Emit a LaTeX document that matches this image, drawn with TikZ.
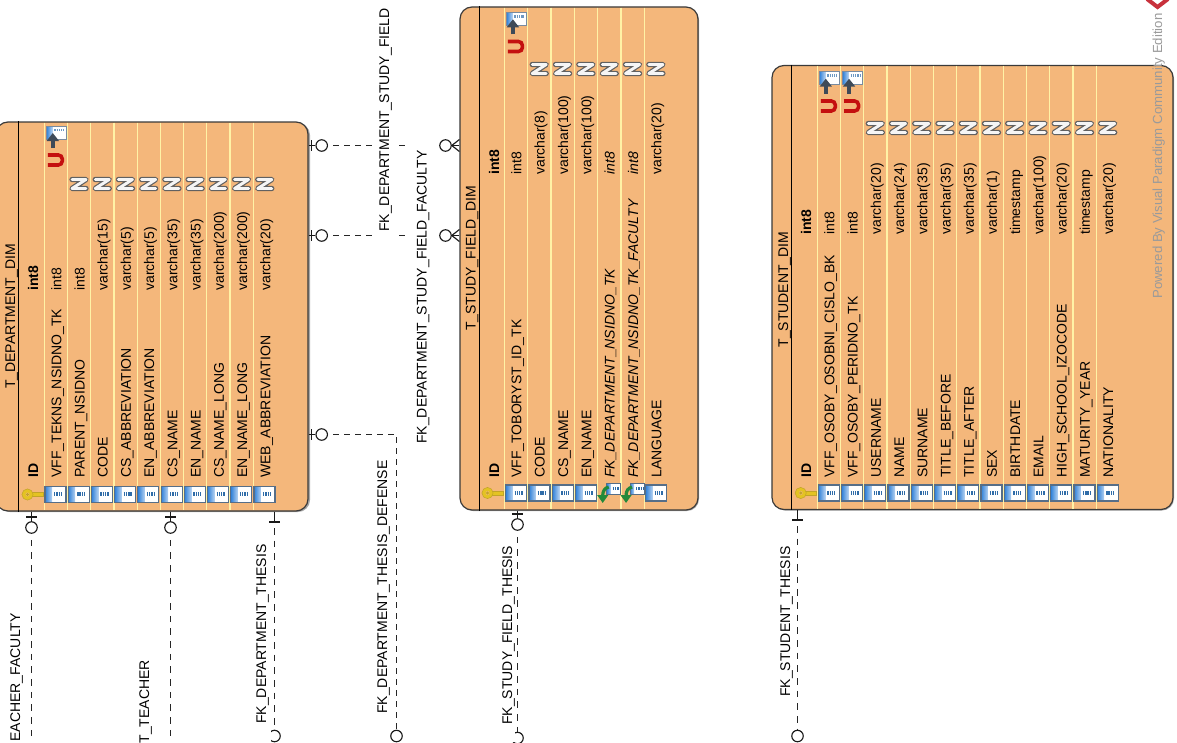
\documentclass[tikz,border=0pt]{standalone}
\usepackage{fontspec}
\setmainfont{Liberation Sans}
\usetikzlibrary{arrows.meta,calc}
\definecolor{tblfill}{HTML}{F4B77B}
\definecolor{tblline}{HTML}{3A3A3A}
\definecolor{sepline}{HTML}{FFF2A6}
\definecolor{iconedge}{HTML}{566E88}
\definecolor{iconblue}{HTML}{2F80D8}
\definecolor{iconmark}{HTML}{2F6CA8}
\definecolor{arrowdark}{HTML}{3E4A58}
\definecolor{magnet}{HTML}{C4100F}
\definecolor{keyyellow}{HTML}{E4C322}
\definecolor{keyedge}{HTML}{C2A428}
\definecolor{fkgreen}{HTML}{23893A}
\definecolor{wmgrey}{HTML}{9A9A9A}
\definecolor{logored}{HTML}{C8323C}
\newcommand{\rowfont}{\fontsize{10.5}{12}\selectfont}
\tikzset{
  tablebox/.style={draw=tblline,fill=tblfill,rounded corners=9pt,line width=.9pt,inner sep=0pt},
  shadowbox/.style={fill=black!35,rounded corners=9pt,inner sep=0pt},
  rowtxt/.style={rotate=90,anchor=base west,inner sep=0pt,font=\rowfont},
  rowplain/.style={},
  rowital/.style={font=\rowfont\itshape},
  headtxt/.style={rotate=90,anchor=base west,inner sep=0pt,font=\rowfont\bfseries},
  titletxt/.style={rotate=90,anchor=base,inner sep=0pt,font=\rowfont},
  seprule/.style={draw=sepline,line width=.9pt},
  divrule/.style={draw=black,line width=.8pt},
  fklabel/.style={rotate=90,anchor=base west,fill=white,inner xsep=1.5pt,inner ysep=1pt,font=\rowfont},
  fklabelend/.style={fklabel,anchor=base east},
  rel/.style={draw=black!90,line width=.85pt},
  reldash/.style={draw=black!85,line width=.9pt,dash pattern=on 4.5pt off 3.75pt,dash phase=4.5pt},
  reldashv/.style={draw=black!85,line width=.9pt,dash pattern=on 5pt off 4.5pt,dash phase=5pt},
  oend/.style={circle,draw=black!90,line width=.85pt,fill=white,inner sep=0pt,minimum size=8.6pt},
  colicon/.pic={
    \fill[white] (0,-8) rectangle (21,8);
    \shade[left color=iconblue,right color=iconblue!35] (0,-8) rectangle (7,8);
    \draw[iconmark,line width=3pt,dash pattern=on 1pt off .7pt] (9,0) -- (18,0);
    \draw[iconedge,line width=.9pt] (0,-8) rectangle (21,8);
  },
  fkicon/.pic={
    \fill[white] (9,-10) rectangle (23,1);
    \shade[left color=iconblue,right color=iconblue!35] (9,-10) rectangle (13,1);
    \draw[iconmark,line width=2.2pt,dash pattern=on 1pt off .7pt] (15,-4.5) -- (22,-4.5);
    \draw[iconedge,line width=.5pt] (9,-10) rectangle (23,1);
    \draw[fkgreen,line width=2.4pt,-{Triangle[length=6pt,width=8pt]}] (11,-6) .. controls (7,-5) and (5,-2) .. (5,10);
  },
  upkey/.pic={
    \fill[white] (2,0) rectangle (22,13);
    \shade[left color=iconblue,right color=iconblue!35] (2,0) rectangle (8,13);
    \draw[iconmark!70,line width=2.2pt,dash pattern=on 1pt off .7pt] (10,4) -- (20,4);
    \draw[iconedge!80,line width=.7pt] (2,0) rectangle (22,13);
    \draw[arrowdark,line width=3pt,-{Triangle[length=6pt,width=9pt]}] (8.5,22) -- (8.5,7);
  },
  uicon/.pic={
    \draw[magnet,line width=2.7pt,rounded corners=3pt] (3.5,29.5) -- (18,29.5) -- (18,39.5) -- (3.5,39.5);
  },
  nicon/.pic={
    \draw[black!62,line width=4pt,line join=round,line cap=round] (-7,-4.5) -- (7,-4.5) -- (-7,4.5) -- (7,4.5);
    \draw[black!4,line width=2.2pt,line join=round,line cap=round] (-7,-4.5) -- (7,-4.5) -- (-7,4.5) -- (7,4.5);
  },
  keyicon/.pic={
    \fill[keyyellow,draw=keyedge,line width=.4pt] (3,-1.8) rectangle (16,1.8);
    \draw[keyyellow,line width=2.4pt] (0,0) circle (3.8);
    \draw[keyedge,line width=.4pt] (0,0) circle (5.6);
    \fill[keyedge] (0,0) circle (1.6);
  },
}
\begin{document}
\begin{tikzpicture}[x=0.75pt,y=-0.75pt]
\path[use as bounding box,clip] (0,0) rectangle (1177,742);

% ---- table boxes
\node[shadowbox,minimum width=312*.75pt,minimum height=389*.75pt] (dshadow) at (154,317.5) {};
\node[shadowbox,minimum width=238*.75pt,minimum height=503*.75pt] (sshadow) at (580,259.5) {};
\node[shadowbox,minimum width=401*.75pt,minimum height=444*.75pt] (ushadow) at (973.5,288.5) {};
\node[tablebox,minimum width=312*.75pt,minimum height=389*.75pt] (dept) at (152,316.5) {};
\node[tablebox,minimum width=238*.75pt,minimum height=503*.75pt] (study) at (579,258.5) {};
\node[tablebox,minimum width=401*.75pt,minimum height=444*.75pt] (student) at (972.5,287.5) {};

% ---- dividers and titles
\draw[divrule] (dept.north -| 18.3,0) -- (dept.south -| 18.3,0);
\draw[divrule] (study.north -| 479.4,0) -- (study.south -| 479.4,0);
\draw[divrule] (student.north -| 791.7,0) -- (student.south -| 791.7,0);
\node[titletxt] (dtitle) at (15,316.5) {T\_DEPARTMENT\_DIM};
\node[titletxt] (stitle) at (475.5,258.5) {T\_STUDY\_FIELD\_DIM};
\node[titletxt] (utitle) at (788,289.5) {T\_STUDENT\_DIM};

% ---- T_DEPARTMENT_DIM
\node[headtxt] (did) at (38,478) {ID};
\node[headtxt] (didt) at (38,291) {int8};
\pic at (27.5,494.5) {keyicon};
\foreach \n/\t [count=\i from 0] in {
  VFF\_TEKNS\_NSIDNO\_TK/int8, PARENT\_NSIDNO/int8, CODE/varchar(15),
  CS\_ABBREVIATION/varchar(5), EN\_ABBREVIATION/varchar(5), CS\_NAME/varchar(35),
  EN\_NAME/varchar(35), CS\_NAME\_LONG/varchar(200), EN\_NAME\_LONG/varchar(200),
  WEB\_ABBREVIATION/varchar(20)} {
  \pgfmathsetmacro{\sx}{44.3+23.22*\i}
  \draw[seprule] (\sx,122.7) -- (\sx,510.3);
  \pic at (\sx+.7,494.4) {colicon};
  \node[rowtxt] (dn\i) at (\sx+17,478) {\n};
  \node[rowtxt] (dt\i) at (\sx+17,291) {\t};
}
\pic at (44.3,126) {upkey};
\pic at (44.3,125.5) {uicon};
\foreach \i in {1,...,9} {
  \pic at ({44.3+23.22*\i+11.5},184) {nicon};
}

% ---- T_STUDY_FIELD_DIM
\node[headtxt] (sid) at (499,478) {ID};
\node[headtxt] (sidt) at (499,175) {int8};
\pic at (487.5,493) {keyicon};
\foreach \n/\t/\s [count=\i from 0] in {
  VFF\_TOBORYST\_ID\_TK/int8/rowplain, CODE/varchar(8)/rowplain, CS\_NAME/varchar(100)/rowplain,
  EN\_NAME/varchar(100)/rowplain, FK\_DEPARTMENT\_NSIDNO\_TK/int8/rowital,
  FK\_DEPARTMENT\_NSIDNO\_TK\_FACULTY/int8/rowital, LANGUAGE/varchar(20)/rowplain} {
  \pgfmathsetmacro{\sx}{504.4+23.33*\i}
  \draw[seprule] (\sx,7.7) -- (\sx,509.3);
  \node[rowtxt,\s] (sn\i) at (\sx+17,478) {\n};
  \node[rowtxt,\s] (st\i) at (\sx+17,175) {\t};
}
\foreach \i in {0,1,2,3,6} {
  \pic at ({504.4+23.33*\i+1.2},493) {colicon};
}
\foreach \i in {4,5} {
  \pic at ({504.4+23.33*\i},493) {fkicon};
}
\pic at (504.4,12.3) {upkey};
\pic at (504.4,12) {uicon};
\foreach \i in {1,...,6} {
  \pic at ({504.4+23.33*\i+11.5},69) {nicon};
}

% ---- T_STUDENT_DIM
\node[headtxt] (uid) at (811,478) {ID};
\node[headtxt] (uidt) at (811,235) {int8};
\pic at (800.7,493) {keyicon};
\foreach \n/\t [count=\i from 0] in {
  VFF\_OSOBY\_OSOBNI\_CISLO\_BK/int8, VFF\_OSOBY\_PERIDNO\_TK/int8, USERNAME/varchar(20),
  NAME/varchar(24), SURNAME/varchar(35), TITLE\_BEFORE/varchar(35), TITLE\_AFTER/varchar(35),
  SEX/varchar(1), BIRTHDATE/timestamp, EMAIL/varchar(100), HIGH\_SCHOOL\_IZOCODE/varchar(20),
  MATURITY\_YEAR/timestamp, NATIONALITY/varchar(20)} {
  \pgfmathsetmacro{\sx}{817.3+23.24*\i}
  \draw[seprule] (\sx,65.7) -- (\sx,509.3);
  \pic at (\sx+1,493) {colicon};
  \node[rowtxt] (un\i) at (\sx+17,478) {\n};
  \node[rowtxt] (ut\i) at (\sx+17,235) {\t};
}
\foreach \i in {0,1} {
  \pic at ({817.3+23.24*\i},71.7) {upkey};
  \pic at ({817.3+23.24*\i},71.5) {uicon};
}
\foreach \i in {2,...,12} {
  \pic at ({817.3+23.24*\i+11.5},128) {nicon};
}

% ---- end circles
\node[oend] (a1) at (321.7,145.5) {};
\node[oend] (a2) at (445.5,145.5) {};
\node[oend] (b1) at (321.7,235.5) {};
\node[oend] (b2) at (445.5,235.5) {};
\node[oend] (c1) at (321.7,434.5) {};
\node[oend] (c2) at (396.5,736) {};
\node[oend] (d1) at (31.5,527.5) {};
\coordinate (d2) at (31.5,742);
\node[oend] (e1) at (170.5,527.5) {};
\coordinate (e2) at (170.5,742);
\coordinate (f1) at (274.5,522);
\node[oend] (f2) at (274.5,736) {};
\node[oend] (g1) at (517.5,524.5) {};
\node[oend] (g2) at (517.5,738) {};
\coordinate (h1) at (797.5,520);
\node[oend] (h2) at (797.5,736) {};

% ---- dashed connectors
\draw[reldash] (a1) -- (a2);
\draw[reldash] (b1) -- (b2);
\draw[reldash] (c1) -| (c2);
\draw[reldashv] (d1) -- (d2);
\draw[reldashv] (e1) -- (e2);
\draw[reldashv] (f1) -- (f2);
\draw[reldashv] (g1) -- (g2);
\draw[reldashv] (h1) -- (h2);

% ---- breaks in the lines around the labels
\fill[white] (372.5,140) rectangle (397,150);
\fill[white] (410,140) rectangle (438,150);
\fill[white] (372.5,230) rectangle (397,240);
\fill[white] (410,230) rectangle (438,240);
\fill[white] (255,727) rectangle (271,742);
\fill[white] (500,727) rectangle (515,742);

% ---- solid end stubs and bars
\draw[rel] (dept.east |- a1) -- (a1);
\draw[rel] (dept.east |- b1) -- (b1);
\draw[rel] (dept.east |- c1) -- (c1);
\draw[rel] (d1 |- dept.south) -- (d1);
\draw[rel] (e1 |- dept.south) -- (e1);
\draw[rel] (f1 |- dept.south) -- (f1);
\draw[rel] (g1 |- study.south) -- (g1);
\draw[rel] (h1 |- student.south) -- (h1);
\foreach \c in {a1,b1,c1} { \draw[rel] ($(\c)+(-10,-5.5)$) -- ++(0,11); }
\foreach \c in {d1,e1} { \draw[rel] ($(\c)+(-5.5,-10.5)$) -- ++(11,0); }
\draw[rel] ($(g1)+(-5.5,-10.5)$) -- ++(11,0);
\draw[rel] ($(f1)+(-5.5,0)$) -- ++(11,0);
\draw[rel] ($(h1)+(-5.5,0)$) -- ++(11,0);
\foreach \c in {a2,b2} {
  \draw[rel] (\c.east) -- (study.west |- \c);
  \draw[rel] (\c.east) -- ($(study.west |- \c)+(0,-6)$);
  \draw[rel] (\c.east) -- ($(study.west |- \c)+(0,6)$);
}

% ---- connector labels
\node[fklabel] (la) at (389,234) {FK\_DEPARTMENT\_STUDY\_FIELD};
\node[fklabel] (lb) at (426.5,446) {FK\_DEPARTMENT\_STUDY\_FIELD\_FACULTY};
\node[fklabel] (lc) at (387,716) {FK\_DEPARTMENT\_THESIS\_DEFENSE};
\node[fklabel] (lf) at (266,726) {FK\_DEPARTMENT\_THESIS};
\node[fklabel] (lg) at (512,727) {FK\_STUDY\_FIELD\_THESIS};
\node[fklabel] (lh) at (790,699) {FK\_STUDENT\_THESIS};
\node[fklabelend] (ld) at (20,611) {EACHER\_FACULTY};
\node[fklabelend] (le) at (149,658) {T\_TEACHER};

% ---- watermark
\node[rowtxt,text=wmgrey,font=\fontsize{9.9}{12}\selectfont] (wm) at (1162,299) {Powered By Visual Paradigm Community Edition};
\draw[draw=logored,line width=3pt,line join=miter] (1147,-1) -- (1157.5,7) -- (1168,-1);
\end{tikzpicture}
\end{document}
